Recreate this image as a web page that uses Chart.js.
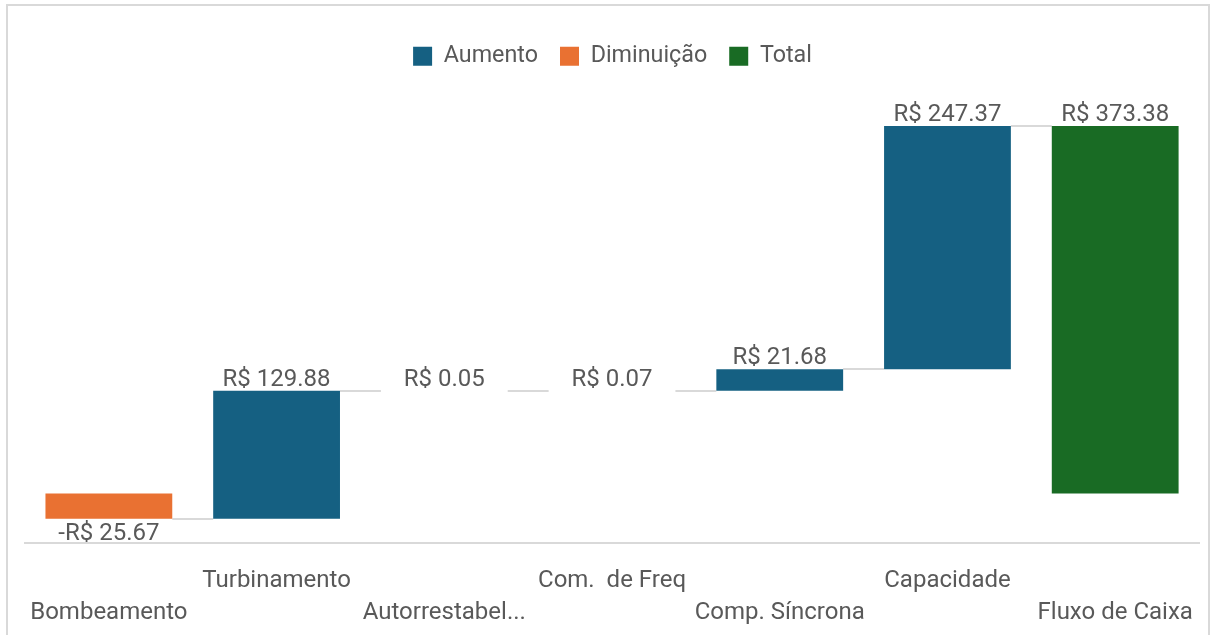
<!DOCTYPE html>
<html>
<head>
<meta charset="utf-8">
<title>Fluxo de Caixa - Cascata</title>
<script src="https://cdn.jsdelivr.net/npm/chart.js@4.4.1/dist/chart.umd.min.js"></script>
<style>
    html, body { margin: 0; padding: 0; background: #fff; overflow: hidden; }
    #frame {
        position: absolute; left: 6px; top: 4px;
        width: 1200px; height: 700px;
        border: 2px solid #d9d9d9;
    }
    #waterfall-chart { position: absolute; left: 0; top: 0; }
</style>
</head>
<body>
<div id="frame"></div>
<canvas id="waterfall-chart" width="1216" height="651"></canvas>
<script>
// Waterfall values (R$)
const categories = ['Bombeamento', 'Turbinamento', 'Autorrestabel...', 'Com.  de Freq', 'Comp. Síncrona', 'Capacidade', 'Fluxo de Caixa'];
const changes = [-25.67, 129.88, 0.05, 0.07, 21.68, 247.37];
const totalValue = 373.38;
const seriesNames = ['Aumento', 'Diminuição', 'Total'];
const seriesColors = ['#156082', '#E97132', '#196B24'];

const TEXT_COLOR = '#595959';
const LINE_COLOR = '#d9d9d9';
const FONT = 'Roboto';

// Build floating bars [start, end] from running sum
const increaseData = [];
const decreaseData = [];
const totalData = [];
let running = 0;
changes.forEach((v) => {
    const start = running;
    running = Math.round((running + v) * 100) / 100;
    increaseData.push(v >= 0 ? [start, running] : null);
    decreaseData.push(v < 0 ? [start, running] : null);
    totalData.push(null);
});
increaseData.push(null);
decreaseData.push(null);
totalData.push([0, totalValue]);

function formatBRL(v) {
    const s = 'R$ ' + Math.abs(v).toFixed(2);
    return v < 0 ? '-' + s : s;
}

function elementAt(chart, index) {
    for (let d = 0; d < chart.data.datasets.length; d++) {
        if (chart.data.datasets[d].data[index]) {
            return chart.getDatasetMeta(d).data[index];
        }
    }
    return null;
}

// Gray connector lines between consecutive bars
const connectorPlugin = {
    id: 'connectors',
    beforeDatasetsDraw(chart) {
        const ctx = chart.ctx;
        const y = chart.scales.y;
        let level = 0;
        ctx.save();
        ctx.strokeStyle = LINE_COLOR;
        ctx.lineWidth = 2;
        for (let i = 0; i < categories.length - 1; i++) {
            level = i < changes.length ? level + changes[i] : totalValue;
            const a = elementAt(chart, i);
            const b = elementAt(chart, i + 1);
            if (!a || !b) continue;
            const py = Math.round(y.getPixelForValue(level));
            ctx.beginPath();
            ctx.moveTo(a.x + a.width / 2, py);
            ctx.lineTo(b.x - b.width / 2, py);
            ctx.stroke();
        }
        ctx.restore();
    }
};

// Value labels above (or below for negatives) each bar
const valueLabelPlugin = {
    id: 'valueLabels',
    afterDatasetsDraw(chart) {
        const ctx = chart.ctx;
        ctx.save();
        ctx.font = '24px ' + FONT;
        ctx.fillStyle = TEXT_COLOR;
        ctx.textAlign = 'center';
        ctx.textBaseline = 'middle';
        chart.data.datasets.forEach((ds, d) => {
            const meta = chart.getDatasetMeta(d);
            ds.data.forEach((pair, i) => {
                if (!pair) return;
                const el = meta.data[i];
                const diff = pair[1] - pair[0];
                const top = Math.min(el.y, el.base);
                const bottom = Math.max(el.y, el.base);
                if (diff >= 0) {
                    ctx.fillText(formatBRL(diff), el.x, top - 11);
                } else {
                    ctx.fillText(formatBRL(diff), el.x, bottom + 15);
                }
            });
        });
        ctx.restore();
    }
};

const ctx = document.getElementById('waterfall-chart').getContext('2d');
const chart = new Chart(ctx, {
    type: 'bar',
    data: {
        labels: categories,
        datasets: [
            { label: seriesNames[0], data: increaseData, backgroundColor: seriesColors[0] },
            { label: seriesNames[1], data: decreaseData, backgroundColor: seriesColors[1] },
            { label: seriesNames[2], data: totalData, backgroundColor: seriesColors[2] }
        ]
    },
    options: {
        responsive: false,
        maintainAspectRatio: false,
        animation: false,
        grouped: false,
        barPercentage: 0.756,
        categoryPercentage: 1,
        borderWidth: 0,
        inflateAmount: 0,
        layout: {
            padding: { left: 25, right: 16, top: 22.5, bottom: 0 }
        },
        scales: {
            x: {
                grid: { display: false, drawTicks: false, tickLength: 0 },
                border: { display: true, color: LINE_COLOR, width: 2 },
                ticks: {
                    autoSkip: false,
                    maxRotation: 0,
                    minRotation: 0,
                    padding: 22,
                    color: TEXT_COLOR,
                    font: { family: FONT, size: 24, lineHeight: 1.342 },
                    callback: function (value, index) {
                        const name = categories[index];
                        return index % 2 === 0 ? ['', name] : [name];
                    }
                }
            },
            y: {
                display: false,
                min: -50,
                max: 422.3
            }
        },
        plugins: {
            legend: {
                display: true,
                position: 'top',
                labels: {
                    boxWidth: 19,
                    boxHeight: 19,
                    padding: 22,
                    color: TEXT_COLOR,
                    font: { family: FONT, size: 23.3 }
                }
            },
            tooltip: { enabled: false }
        }
    },
    plugins: [connectorPlugin, valueLabelPlugin]
});
</script>
</body>
</html>
